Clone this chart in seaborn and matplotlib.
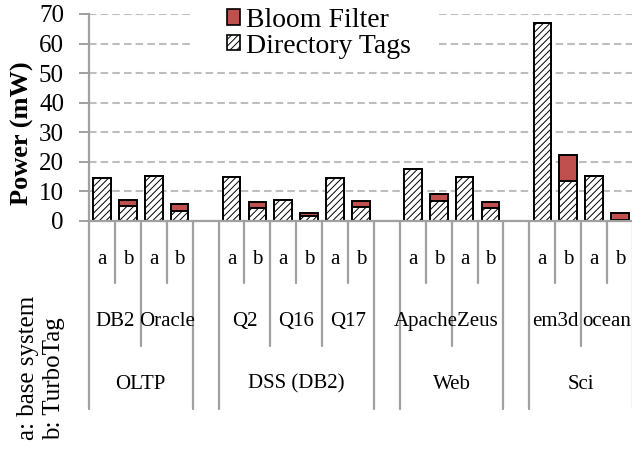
import matplotlib
matplotlib.use("Agg")
import matplotlib.pyplot as plt
import matplotlib.transforms as mtransforms
from matplotlib.lines import Line2D
from matplotlib.patches import Patch, Rectangle
import pandas as pd
import seaborn as sns

# Workload hierarchy: group -> benchmarks -> system (a / b)
groups = ["OLTP", "DSS (DB2)", "Web", "Sci"]
benchmarks = [["DB2", "Oracle"], ["Q2", "Q16", "Q17"], ["Apache", "Zeus"], ["em3d", "ocean"]]
systems = ["a", "b"]

# Power (mW), one value per benchmark/system in the order above
directory_tags = [14.4, 5.1, 15.2, 3.4,
                  14.9, 4.2, 7.0, 1.6, 14.6, 4.5,
                  17.5, 6.6, 14.7, 4.3,
                  66.8, 13.4, 15.2, 0.3]
bloom_filter = [0.0, 2.0, 0.0, 2.1,
                0.0, 2.0, 0.0, 0.9, 0.0, 2.1,
                0.0, 2.4, 0.0, 2.1,
                0.0, 8.7, 0.0, 2.3]

y_ticks = [0, 10, 20, 30, 40, 50, 60, 70]

RED = "#C0504D"
AXIS_GRAY = "#A0A0A0"
GRID_GRAY = "#BEBEBE"

sns.set_theme(style="white")
plt.rcParams["font.family"] = ["Liberation Serif", "DejaVu Serif"]
plt.rcParams["text.color"] = "black"
plt.rcParams["axes.labelcolor"] = "black"
plt.rcParams["ytick.labelcolor"] = "black"
plt.rcParams["hatch.linewidth"] = 0.7
plt.rcParams["hatch.color"] = "black"
plt.rcParams["lines.scale_dashes"] = False

# Lay out slots: one per bar, plus an empty slot between groups
slot_of_bar = []
bench_spans = []   # (name, first slot, last slot)
group_spans = []   # (name, first slot, last slot)
sys_labels = []
slot = 0
for gi, (g, benches) in enumerate(zip(groups, benchmarks)):
    g_start = slot
    for b in benches:
        b_start = slot
        for s in systems:
            slot_of_bar.append(slot)
            sys_labels.append((s, slot))
            slot += 1
        bench_spans.append((b, b_start, slot - 1))
    group_spans.append((g, g_start, slot - 1))
    if gi < len(groups) - 1:
        slot += 1
n_slots = slot

df = pd.DataFrame({
    "slot": slot_of_bar,
    "directory": directory_tags,
    "total": [d + b for d, b in zip(directory_tags, bloom_filter)],
})

fig = plt.figure(figsize=(6.32, 4.5), dpi=100)
W, H = 632, 450
ax_left, ax_right, ax_top, ax_bottom = 89, 633, 14, 220.7
ax_w, ax_h = ax_right - ax_left, ax_bottom - ax_top
ax = fig.add_axes([ax_left / W, 1 - ax_bottom / H, ax_w / W, ax_h / H])

bar_kw = dict(native_scale=True, width=0.68, errorbar=None, saturation=1,
              edgecolor="black", linewidth=1.4, ax=ax)
sns.barplot(data=df, x="slot", y="total", color=RED, **bar_kw)
sns.barplot(data=df, x="slot", y="directory", color="white", hatch="/////", **bar_kw)

ax.set_xlim(-0.5, n_slots - 0.5)
ax.set_ylim(0, 70)
ax.set_yticks(y_ticks)
ax.set_xticks([])
ax.set_xlabel("")
ax.set_ylabel("")
ax.tick_params(axis="y", labelsize=18, length=7, width=1.4, color=AXIS_GRAY,
               labelcolor="black", direction="out", pad=11, left=True)
ax.yaxis.grid(True, color=GRID_GRAY, linestyle=(0, (5.4, 3.0)), linewidth=1.5)
ax.set_axisbelow(True)
for side in ("top", "right"):
    ax.spines[side].set_visible(False)
for side in ("left", "bottom"):
    ax.spines[side].set_color(AXIS_GRAY)
    ax.spines[side].set_linewidth(1.6)

# Multi-level category axis below the plot
trans = mtransforms.blended_transform_factory(ax.transData, ax.transAxes)


def frac(px):
    return (ax_bottom - px) / ax_h


lvl1_y, lvl2_y, lvl3_y = frac(259), frac(321), frac(384)
short_end, mid_end, long_end = frac(283), frac(346), frac(409)

long_b, mid_b = set(), set()
for _, s0, s1 in group_spans:
    long_b.update([s0, s1 + 1])
for _, s0, s1 in bench_spans:
    mid_b.update([s0, s1 + 1])
for k in range(n_slots + 1):
    if k in long_b:
        end = long_end
    elif k in mid_b:
        end = mid_end
    else:
        end = short_end
    ax.add_line(Line2D([k - 0.5, k - 0.5], [0, end], transform=trans,
                       color=AXIS_GRAY, lw=1.6, clip_on=False))

for s, x in sys_labels:
    ax.text(x, lvl1_y, s, transform=trans, ha="center", va="center", fontsize=15)
for name, s0, s1 in bench_spans:
    ax.text((s0 + s1) / 2, lvl2_y, name, transform=trans, ha="center",
            va="center", fontsize=15)
for name, s0, s1 in group_spans:
    ax.text((s0 + s1) / 2, lvl3_y, name, transform=trans, ha="center",
            va="center", fontsize=15)

# Axis title and key for the a/b labels
fig.text(22 / W, 1 - 133 / H, "Power (mW)", rotation=90, ha="center",
         va="center", fontsize=19, fontweight="bold")
fig.text(41 / W, 1 - 440 / H, "a: base system\nb: TurboTag", rotation=90,
         ha="center", va="bottom", multialignment="left", fontsize=18,
         linespacing=1.25)

# Legend on a white panel over the top gridlines
ax.add_patch(Rectangle(((193 - ax_left) / ax_w, frac(60)),
                       (438 - 193) / ax_w, 1.2 - frac(60),
                       transform=ax.transAxes, facecolor="white",
                       edgecolor="none", zorder=0.8, clip_on=False))
handles = [Patch(facecolor=RED, edgecolor="black", linewidth=1.2),
           Patch(facecolor="white", edgecolor="black", hatch="/////", linewidth=1.2)]
leg = ax.legend(handles, ["Bloom Filter", "Directory Tags"], frameon=False,
                loc="upper left", bbox_to_anchor=((227 - ax_left) / ax_w, frac(8)),
                fontsize=20, handlelength=0.48, handleheight=0.48,
                handletextpad=0.22, labelspacing=0.02, borderpad=0, borderaxespad=0)

fig.savefig("out.png", dpi=100)
